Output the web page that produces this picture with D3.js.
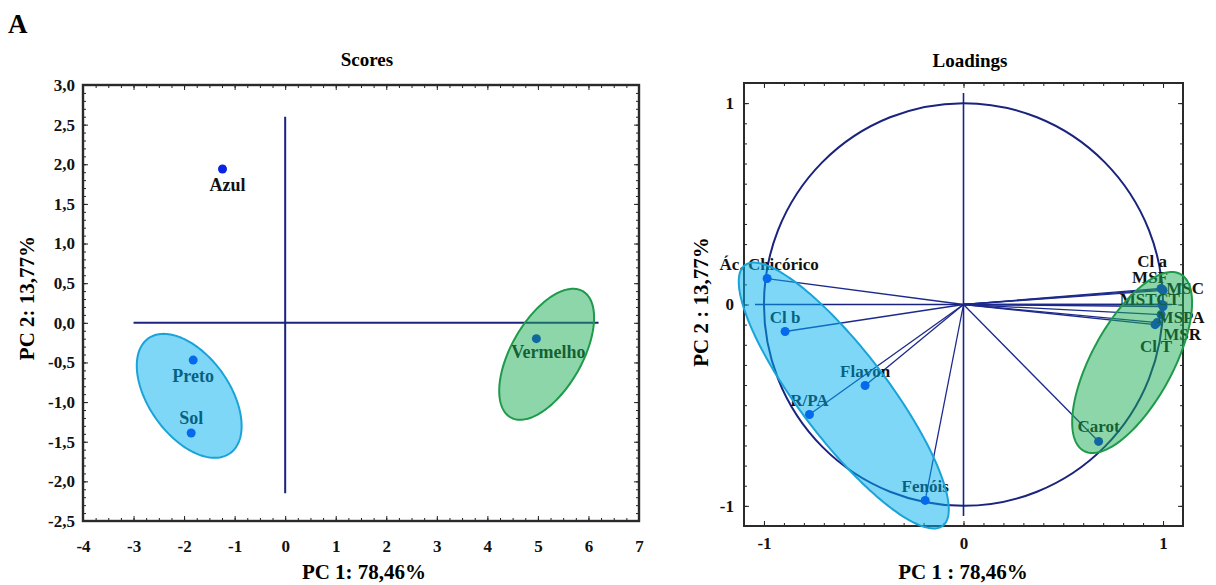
<!DOCTYPE html>
<html><head><meta charset="utf-8">
<script src="https://cdn.jsdelivr.net/npm/d3@7"></script>
<style>
body{margin:0;background:#fff}
svg{display:block}
text{font-family:"Liberation Serif","Times New Roman",serif;font-weight:bold}
</style>
</head><body>
<svg id="c" width="1216" height="585"></svg>
<script>
// ---------------- DATA ----------------
const scoreNames = ["Azul", "Preto", "Sol", "Vermelho"];
const scorePC1   = [-1.24, -1.82, -1.86, 4.97];
const scorePC2   = [1.94, -0.47, -1.39, -0.20];

const loadingNames = ["Ác. Chicórico", "Cl b", "Flavon", "R/PA", "Fenóis", "Carot",
                      "Cl a", "MSF", "MSC", "MST", "CT", "MSPA", "MSR", "Cl T"];
const loadingPC1 = [-0.984, -0.894, -0.493, -0.772, -0.192, 0.677,
                     0.99, 0.995, 1.0, 0.995, 1.0, 0.99, 0.97, 0.96];
const loadingPC2 = [0.129, -0.134, -0.402, -0.546, -0.973, -0.680,
                     0.08, 0.075, 0.07, 0.0, -0.01, -0.05, -0.09, -0.10];

const scoreXTicks = [-4, -3, -2, -1, 0, 1, 2, 3, 4, 5, 6, 7];
const scoreXTickLabels = ["-4", "-3", "-2", "-1", "0", "1", "2", "3", "4", "5", "6", "7"];
const scoreYTicks = [-2.5, -2, -1.5, -1, -0.5, 0, 0.5, 1, 1.5, 2, 2.5, 3];
const scoreYTickLabels = ["-2,5", "-2,0", "-1,5", "-1,0", "-0,5", "0,0", "0,5", "1,0", "1,5", "2,0", "2,5", "3,0"];
const loadTicks = [-1, 0, 1];
const loadTickLabels = ["-1", "0", "1"];

// group ellipses (centre + two conjugate semi-axis vectors, data units)
const scoreEllipses = [
  {cx: -1.899, cy: -0.921, ux: 0.809, uy: -0.724, vx: -0.649, vy: -0.295, fill: "#00b0f0", stroke: "#1aa3d8"},
  {cx: 5.173, cy: -0.397, ux: 0.714, uy: 0.796, vx: 0.609, vy: -0.222, fill: "#1aae55", stroke: "#1e9a4a"}
];
const loadEllipses = [
  {cx: -0.600, cy: -0.452, ux: 0.496, uy: -0.647, vx: -0.176, vy: -0.132, fill: "#00b0f0", stroke: "#1aa3d8"},
  {cx: 0.845, cy: -0.288, ux: 0.242, uy: 0.439, vx: 0.178, vy: -0.096, fill: "#1aae55", stroke: "#1e9a4a"}
];

// label placement (pixel offsets from point, baseline)
const scoreLabelDx = [5, 0, 0, 12];
const scoreLabelDy = [22, 22, -9, 19];
const loadLabelDx = [2, 0, 0, 0, 0, 0, -9, -12, 22, -24, 5, 20, 25, 1];
const loadLabelDy = [-9, -8, -8, -8, -8, -9, -21, -6, 4, 0, -2, 8, 17, 27];

// ---------------- DRAW ----------------
const svg = d3.select("#c");
const INK = "#1a237e";
const PT = "#0a22e6";

function ellipsePath(e, x, y) {
  const pts = d3.range(0, 2 * Math.PI, Math.PI / 90).map(t => [
    x(e.cx + e.ux * Math.cos(t) + e.vx * Math.sin(t)),
    y(e.cy + e.uy * Math.cos(t) + e.vy * Math.sin(t))
  ]);
  return d3.line().curve(d3.curveLinearClosed)(pts);
}

function frame(g, x, y, o) {
  const [x0, x1] = x.range(), [y0, y1] = y.range();
  const clean = s => { s.select(".domain").remove(); s.selectAll("line").attr("stroke", "#222"); };
  const styleText = s => s.selectAll("text").attr("font-size", o.fs).attr("fill", "#111")
    .attr("font-family", '"Liberation Serif",serif').attr("font-weight", "bold");
  // bottom
  g.append("g").attr("transform", `translate(0,${y0})`)
    .call(d3.axisBottom(x).tickValues(o.xMinor).tickSize(-3).tickFormat("")).call(clean);
  g.append("g").attr("transform", `translate(0,${y0})`)
    .call(d3.axisBottom(x).tickValues(o.xMajor).tickSize(-5).tickPadding(o.xPad)
      .tickFormat((d, i) => o.xLabels[i])).call(clean).call(styleText);
  // top
  g.append("g").attr("transform", `translate(0,${y1})`)
    .call(d3.axisTop(x).tickValues(o.xMinor).tickSize(-3).tickFormat("")).call(clean);
  g.append("g").attr("transform", `translate(0,${y1})`)
    .call(d3.axisTop(x).tickValues(o.xMajor).tickSize(-5).tickFormat("")).call(clean);
  // left
  g.append("g").attr("transform", `translate(${x0},0)`)
    .call(d3.axisLeft(y).tickValues(o.yMinor).tickSize(-3).tickFormat("")).call(clean);
  g.append("g").attr("transform", `translate(${x0},0)`)
    .call(d3.axisLeft(y).tickValues(o.yMajor).tickSize(-5).tickPadding(o.yPad)
      .tickFormat((d, i) => o.yLabels[i])).call(clean).call(styleText);
  // right
  g.append("g").attr("transform", `translate(${x1},0)`)
    .call(d3.axisRight(y).tickValues(o.yMinor).tickSize(-3).tickFormat("")).call(clean);
  g.append("g").attr("transform", `translate(${x1},0)`)
    .call(d3.axisRight(y).tickValues(o.yMajor).tickSize(-5).tickFormat("")).call(clean);
  g.append("rect").attr("x", x0).attr("y", y1).attr("width", x1 - x0).attr("height", y0 - y1)
    .attr("fill", "none").attr("stroke", "#2a2a2a").attr("stroke-width", o.fw);
}

// "A"
svg.append("text").attr("x", 8).attr("y", 33).attr("font-size", 27).attr("fill", "#000").text("A");

// ===== Scores panel =====
const sx = d3.scaleLinear().domain([-4, 7]).range([83, 639]);
const sy = d3.scaleLinear().domain([-2.5, 3]).range([521, 85]);
const gs = svg.append("g");
frame(gs, sx, sy, {
  xMajor: scoreXTicks, xLabels: scoreXTickLabels, xMinor: d3.range(-4, 7.001, 0.25),
  yMajor: scoreYTicks, yLabels: scoreYTickLabels, yMinor: d3.range(-2.5, 3.001, 0.1),
  xPad: 19, yPad: 8, fs: 17, fw: 2.4
});
gs.append("text").attr("x", 367).attr("y", 66).attr("text-anchor", "middle").attr("font-size", 19).text("Scores");
gs.append("text").attr("x", 364).attr("y", 579).attr("text-anchor", "middle").attr("font-size", 21).text("PC 1: 78,46%");
gs.append("text").attr("transform", "translate(34,298) rotate(-90)").attr("text-anchor", "middle").attr("font-size", 21).text("PC 2: 13,77%");
// cross
gs.append("line").attr("x1", sx(-3)).attr("x2", sx(6.2)).attr("y1", sy(0)).attr("y2", sy(0)).attr("stroke", INK).attr("stroke-width", 2);
gs.append("line").attr("x1", sx(0)).attr("x2", sx(0)).attr("y1", sy(2.6)).attr("y2", sy(-2.15)).attr("stroke", INK).attr("stroke-width", 2);
// points + labels
scoreNames.forEach((n, i) => {
  gs.append("circle").attr("cx", sx(scorePC1[i])).attr("cy", sy(scorePC2[i])).attr("r", 4.5).attr("fill", PT);
  gs.append("text").attr("x", sx(scorePC1[i]) + scoreLabelDx[i]).attr("y", sy(scorePC2[i]) + scoreLabelDy[i])
    .attr("text-anchor", "middle").attr("font-size", 18).attr("fill", "#111").text(n);
});
scoreEllipses.forEach(e => {
  gs.append("path").attr("d", ellipsePath(e, sx, sy)).attr("fill", e.fill).attr("fill-opacity", 0.5)
    .attr("stroke", e.stroke).attr("stroke-width", 2);
});

// ===== Loadings panel =====
const lx = d3.scaleLinear().domain([-1.1, 1.1]).range([744, 1183]);
const ly = d3.scaleLinear().domain([-1.1, 1.1]).range([526, 83]);
const gl = svg.append("g");
frame(gl, lx, ly, {
  xMajor: loadTicks, xLabels: loadTickLabels, xMinor: d3.range(-1.1, 1.1001, 0.1),
  yMajor: loadTicks, yLabels: loadTickLabels, yMinor: d3.range(-1.1, 1.1001, 0.1),
  xPad: 11, yPad: 10, fs: 17, fw: 2
});
gl.append("text").attr("x", 970).attr("y", 67).attr("text-anchor", "middle").attr("font-size", 19).text("Loadings");
gl.append("text").attr("x", 963).attr("y", 579).attr("text-anchor", "middle").attr("font-size", 21).text("PC 1 : 78,46%");
gl.append("text").attr("transform", "translate(708,302) rotate(-90)").attr("text-anchor", "middle").attr("font-size", 21).text("PC 2 : 13,77%");
// circle
gl.append("ellipse").attr("cx", lx(0)).attr("cy", ly(0)).attr("rx", lx(1) - lx(0)).attr("ry", ly(0) - ly(1))
  .attr("fill", "none").attr("stroke", INK).attr("stroke-width", 2);
// cross
gl.append("line").attr("x1", lx(-1.045)).attr("x2", lx(1.045)).attr("y1", ly(0)).attr("y2", ly(0)).attr("stroke", INK).attr("stroke-width", 1.6);
gl.append("line").attr("x1", lx(0)).attr("x2", lx(0)).attr("y1", ly(1.05)).attr("y2", ly(-1.05)).attr("stroke", INK).attr("stroke-width", 1.6);
// vectors
loadingNames.forEach((n, i) => {
  gl.append("line").attr("x1", lx(0)).attr("y1", ly(0)).attr("x2", lx(loadingPC1[i])).attr("y2", ly(loadingPC2[i]))
    .attr("stroke", "#1c2a8c").attr("stroke-width", 1.3);
});
loadingNames.forEach((n, i) => {
  gl.append("circle").attr("cx", lx(loadingPC1[i])).attr("cy", ly(loadingPC2[i])).attr("r", 4.5).attr("fill", PT);
});
loadingNames.forEach((n, i) => {
  gl.append("text").attr("x", lx(loadingPC1[i]) + loadLabelDx[i]).attr("y", ly(loadingPC2[i]) + loadLabelDy[i])
    .attr("text-anchor", "middle").attr("font-size", 17).attr("fill", "#111").text(n);
});
loadEllipses.forEach(e => {
  gl.append("path").attr("d", ellipsePath(e, lx, ly)).attr("fill", e.fill).attr("fill-opacity", 0.5)
    .attr("stroke", e.stroke).attr("stroke-width", 2);
});
</script>
</body></html>
